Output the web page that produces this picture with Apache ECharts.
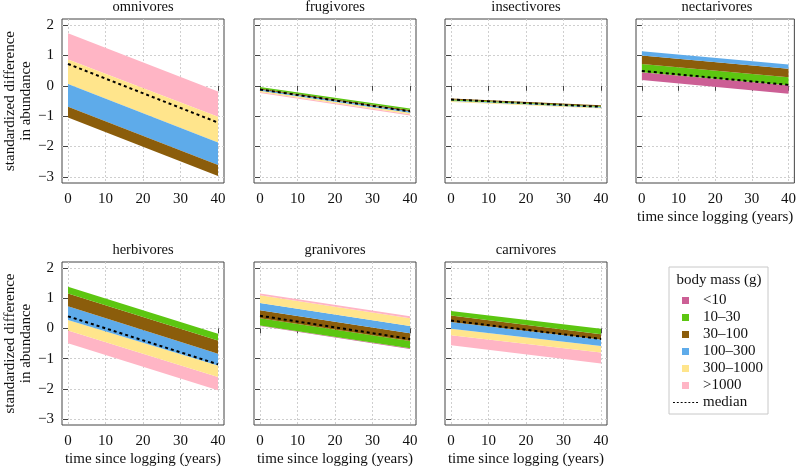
<!DOCTYPE html>
<html><head><meta charset="utf-8">
<script src="https://cdn.jsdelivr.net/npm/echarts@6/dist/echarts.min.js"></script>
<style>html,body{margin:0;padding:0;background:#fff}#c{width:799px;height:468px}</style>
</head><body><div id="c"></div>
<script>
// ---------- data ----------
const years = [0, 40];
const xTicks = [0, 10, 20, 30, 40];
const yTicks = [-3, -2, -1, 0, 1, 2];
const classes = ['<10', '10–30', '30–100', '100–300', '300–1000', '>1000'];
const classColors = ['#CC5F95', '#5CC611', '#8B5D0B', '#5EABEA', '#FFE58C', '#FFB5C5'];
const panelNames = ['omnivores', 'frugivores', 'insectivores', 'nectarivores', 'herbivores', 'granivores', 'carnivores'];

// [class, low at 0 yr, high at 0 yr, low at 40 yr, high at 40 yr]
const omnivoresBands = [
  ['>1000', 0.87, 1.73, -1.02, -0.19],
  ['300–1000', 0.06, 0.87, -1.87, -1.02],
  ['100–300', -0.69, 0.06, -2.61, -1.87],
  ['30–100', -1.04, -0.69, -2.97, -2.61]
];
const omnivoresMedian = [0.72, -1.21];

const frugivoresBands = [
  ['>1000', -0.24, -0.20, -0.98, -0.94],
  ['300–1000', -0.20, -0.16, -0.94, -0.89],
  ['100–300', -0.16, -0.12, -0.89, -0.84],
  ['30–100', -0.12, -0.09, -0.84, -0.80],
  ['10–30', -0.09, -0.04, -0.80, -0.75]
];
const frugivoresMedian = [-0.12, -0.84];

const insectivoresBands = [
  ['300–1000', -0.53, -0.50, -0.75, -0.72],
  ['100–300', -0.50, -0.48, -0.72, -0.70],
  ['10–30', -0.48, -0.45, -0.70, -0.67],
  ['30–100', -0.45, -0.42, -0.67, -0.64]
];
const insectivoresMedian = [-0.45, -0.69];

const nectarivoresBands = [
  ['<10', 0.19, 0.45, -0.26, 0.02],
  ['10–30', 0.45, 0.72, 0.02, 0.28],
  ['30–100', 0.72, 1.00, 0.28, 0.56],
  ['100–300', 1.00, 1.14, 0.56, 0.70]
];
const nectarivoresMedian = [0.49, 0.03];

const herbivoresBands = [
  ['>1000', -0.49, -0.07, -2.05, -1.61],
  ['300–1000', -0.07, 0.28, -1.61, -1.23],
  ['100–300', 0.28, 0.73, -1.23, -0.84],
  ['30–100', 0.73, 1.16, -0.84, -0.40],
  ['10–30', 1.16, 1.38, -0.40, -0.18]
];
const herbivoresMedian = [0.40, -1.19];

const granivoresBands = [
  ['<10', 0.08, 0.10, -0.68, -0.66],
  ['10–30', 0.10, 0.34, -0.66, -0.42],
  ['30–100', 0.34, 0.60, -0.42, -0.16],
  ['100–300', 0.60, 0.84, -0.16, 0.08],
  ['300–1000', 0.84, 1.10, 0.08, 0.34],
  ['>1000', 1.10, 1.16, 0.34, 0.40]
];
const granivoresMedian = [0.42, -0.35];

const carnivoresBands = [
  ['>1000', -0.56, -0.23, -1.16, -0.80],
  ['300–1000', -0.23, -0.01, -0.80, -0.58],
  ['100–300', -0.01, 0.21, -0.58, -0.37],
  ['30–100', 0.21, 0.43, -0.37, -0.19],
  ['10–30', 0.43, 0.58, -0.19, -0.01]
];
const carnivoresMedian = [0.26, -0.35];

// ---------- layout ----------
const FONT = "'Liberation Serif','DejaVu Serif',serif";
const panels = [
  { bands: omnivoresBands, median: omnivoresMedian, left: 62, top: 19, h: 164, yLab: true, xName: false },
  { bands: frugivoresBands, median: frugivoresMedian, left: 254, top: 19, h: 164, yLab: false, xName: false },
  { bands: insectivoresBands, median: insectivoresMedian, left: 445, top: 19, h: 164, yLab: false, xName: false },
  { bands: nectarivoresBands, median: nectarivoresMedian, left: 636, top: 19, h: 164, yLab: false, xName: true },
  { bands: herbivoresBands, median: herbivoresMedian, left: 62, top: 262, h: 163, yLab: true, xName: true },
  { bands: granivoresBands, median: granivoresMedian, left: 254, top: 262, h: 163, yLab: false, xName: true },
  { bands: carnivoresBands, median: carnivoresMedian, left: 445, top: 262, h: 163, yLab: false, xName: true }
];
const W = 162;
const fmt = v => String(v).replace('-', '\u2212');

const grid = [], xAxis = [], yAxis = [], series = [], title = [];
panels.forEach((p, i) => {
  grid.push({ left: p.left, top: p.top, width: W, height: p.h, show: true,
    borderColor: '#444', borderWidth: 1, backgroundColor: 'transparent', containLabel: false });
  xAxis.push({
    type: 'value', gridIndex: i, min: -1.6, max: 41.6,
    axisLine: { show: false },
    axisTick: { show: true, customValues: xTicks, length: 5, inside: false, lineStyle: { color: '#444' } },
    axisLabel: { show: true, customValues: xTicks, margin: 9, fontFamily: FONT, fontSize: 15, color: '#111' },
    splitLine: { show: true, lineStyle: { color: '#cfcfcf', type: [2, 2], width: 1 } },
    name: p.xName ? 'time since logging (years)' : '', nameLocation: 'middle', nameGap: 27,
    nameTextStyle: { fontFamily: FONT, fontSize: 15, color: '#111' }
  });
  yAxis.push({
    type: 'value', gridIndex: i, min: -3.2, max: 2.2,
    axisLine: { show: false },
    axisTick: { show: true, customValues: yTicks, length: 5, inside: false, lineStyle: { color: '#444' } },
    axisLabel: { show: p.yLab, customValues: yTicks, margin: 8, formatter: fmt, fontFamily: FONT, fontSize: 15, color: '#111' },
    splitLine: { show: true, lineStyle: { color: '#cfcfcf', type: [2, 2], width: 1 } },
    name: p.yLab ? 'standardized difference\nin abundance' : '', nameLocation: 'middle', nameRotate: 90, nameGap: 28,
    nameTextStyle: { fontFamily: FONT, fontSize: 15, lineHeight: 16, color: '#111' }
  });
  title.push({ text: panelNames[i], left: p.left + W / 2, top: p.top - 19, textAlign: 'center', padding: 0,
    textStyle: { fontFamily: FONT, fontSize: 14.5, fontWeight: 'normal', color: '#111' } });
  p.bands.forEach(b => {
    const color = classColors[classes.indexOf(b[0])];
    series.push({
      type: 'custom', name: b[0], xAxisIndex: i, yAxisIndex: i, silent: true, z: 2,
      itemStyle: { color: color },
      encode: { x: [0, 3], y: [1, 2, 4, 5] },
      data: [[years[0], b[1], b[2], years[1], b[3], b[4]]],
      renderItem: (params, api) => {
        const p1 = api.coord([api.value(0), api.value(1)]);
        const p2 = api.coord([api.value(3), api.value(4)]);
        const p3 = api.coord([api.value(3), api.value(5)]);
        const p4 = api.coord([api.value(0), api.value(2)]);
        return { type: 'polygon', shape: { points: [p1, p2, p3, p4] }, style: { fill: color } };
      }
    });
  });
  series.push({
    type: 'line', name: 'median', xAxisIndex: i, yAxisIndex: i, silent: true, z: 5,
    symbol: 'none', data: [[years[0], p.median[0]], [years[1], p.median[1]]],
    lineStyle: { color: '#000', width: 2, type: [3, 3] }, itemStyle: { color: '#000' }
  });
});

title.push({ text: 'body mass (g)', left: 719, top: 273, textAlign: 'center', padding: 0,
  textStyle: { fontFamily: FONT, fontSize: 15, fontWeight: 'normal', color: '#111' } });

const dashIcon = 'path://M0,0h2v1h-2zM4,0h2v1h-2zM8,0h2v1h-2zM12,0h2v1h-2zM16,0h2v1h-2zM20,0h2v1h-2zM24,0h2v1h-2z';
const legendData = classes.map((c, k) => ({ name: c, icon: 'path://M0,0h10v10h-10z', itemStyle: { color: classColors[k], borderWidth: 0 } }))
  .concat([{ name: 'median', icon: dashIcon, itemStyle: { color: '#000', borderWidth: 0 } }]);

const chart = echarts.init(document.getElementById('c'), null, { renderer: 'canvas' });
chart.setOption({
  animation: false,
  backgroundColor: '#fff',
  title: title,
  grid: grid, xAxis: xAxis, yAxis: yAxis, series: series,
  legend: {
    orient: 'vertical', left: 669, top: 267,
    padding: [26, 5, 4, 4], itemGap: 2, itemWidth: 25, itemHeight: 7,
    borderColor: '#c8c8c8', borderWidth: 1, selectedMode: false, symbolKeepAspect: true,
    textStyle: { fontFamily: FONT, fontSize: 15, color: '#111', lineHeight: 15 },
    data: legendData
  }
});
</script>
</body></html>
